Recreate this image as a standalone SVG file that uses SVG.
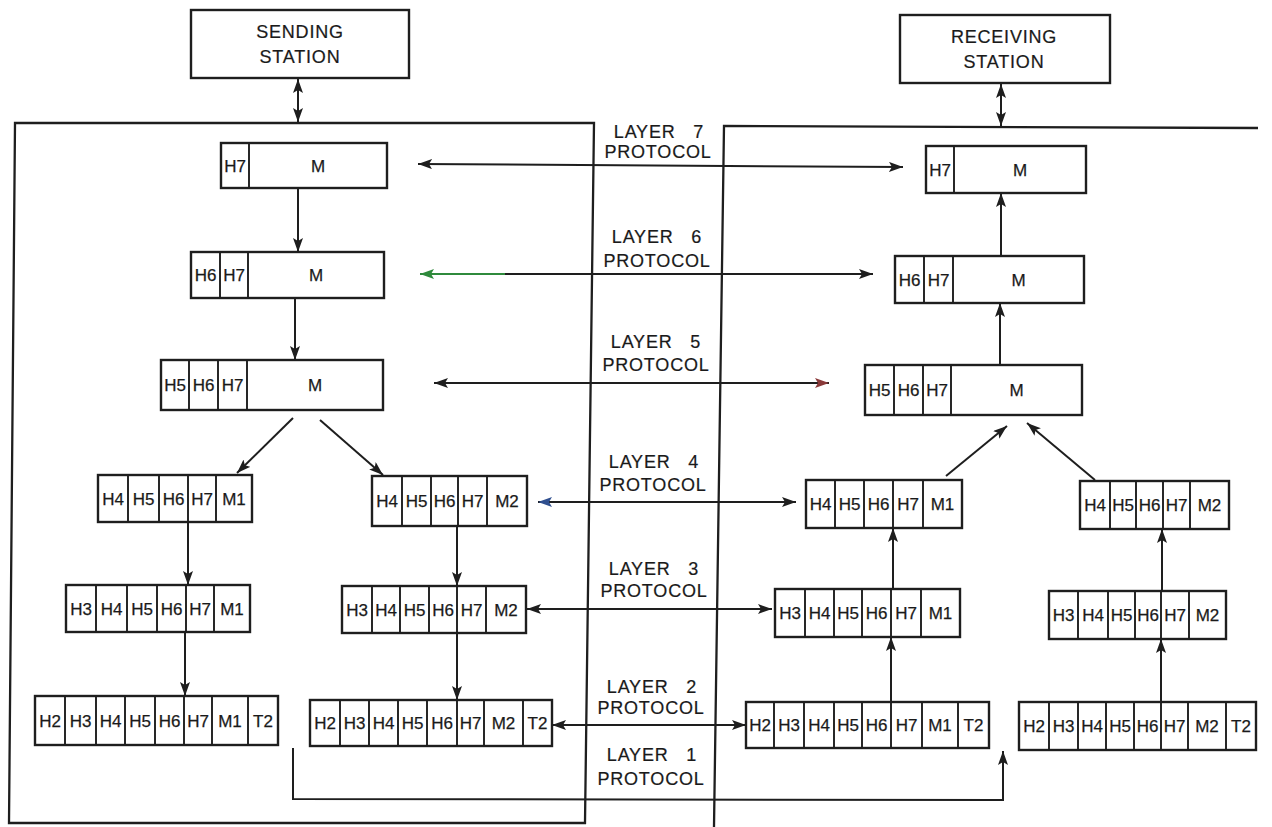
<svg xmlns="http://www.w3.org/2000/svg" width="1272" height="827" viewBox="0 0 1272 827">
<defs>
<style>
.frame{fill:none;stroke:#1e1e1e;stroke-width:2.3}
.box{fill:#fff;stroke:#1e1e1e;stroke-width:2.4}
.div{stroke:#1e1e1e;stroke-width:1.9}
.c{font-family:"Liberation Sans",Arial,sans-serif;font-size:17px;fill:#1a1a1a;stroke:#1a1a1a;stroke-width:0.25;text-anchor:middle}
.lbl{font-family:"Liberation Sans",Arial,sans-serif;font-size:18px;letter-spacing:0.8px;fill:#1a1a1a;stroke:#1a1a1a;stroke-width:0.2;text-anchor:middle}
.lay{word-spacing:12px}
.arr{fill:none;stroke:#1e1e1e;stroke-width:2;marker-end:url(#ah)}
.bi{fill:none;stroke:#1e1e1e;stroke-width:2;marker-end:url(#ah);marker-start:url(#ah)}
</style>
<marker id="ah" markerUnits="userSpaceOnUse" markerWidth="15" markerHeight="11" refX="14" refY="5" orient="auto-start-reverse"><path d="M0,0 L14,5 L0,10 L3,5 z" fill="#1e1e1e"/></marker>
<marker id="ahg" markerUnits="userSpaceOnUse" markerWidth="15" markerHeight="11" refX="14" refY="5" orient="auto-start-reverse"><path d="M0,0 L14,5 L0,10 L3,5 z" fill="#2f8a3c"/></marker>
<marker id="ahb" markerUnits="userSpaceOnUse" markerWidth="15" markerHeight="11" refX="14" refY="5" orient="auto-start-reverse"><path d="M0,0 L14,5 L0,10 L3,5 z" fill="#2f4f8f"/></marker>
<marker id="ahr" markerUnits="userSpaceOnUse" markerWidth="15" markerHeight="11" refX="14" refY="5" orient="auto-start-reverse"><path d="M0,0 L14,5 L0,10 L3,5 z" fill="#8a3a3a"/></marker>
</defs>
<rect width="1272" height="827" fill="#fff"/>

<g id="frames">
<path class="frame" d="M15,123 L594,123 L585,823 L9,823 Z"/>
<path class="frame" d="M1258,128 L724,126 L714,827"/>
</g>

<g id="sending-station">
<rect class="box" x="191" y="10" width="218" height="68"/>
<text class="lbl" x="300" y="38">SENDING</text>
<text class="lbl" x="300" y="63">STATION</text>
</g>
<g id="receiving-station">
<rect class="box" x="900" y="15" width="210" height="68"/>
<text class="lbl" x="1004" y="43">RECEIVING</text>
<text class="lbl" x="1004" y="68">STATION</text>
</g>

<g id="layer-labels">
<text class="lbl lay" x="659" y="138">LAYER 7</text>
<text class="lbl" x="658" y="158">PROTOCOL</text>
<text class="lbl lay" x="657" y="243">LAYER 6</text>
<text class="lbl" x="657" y="267">PROTOCOL</text>
<text class="lbl lay" x="656" y="348">LAYER 5</text>
<text class="lbl" x="656" y="371">PROTOCOL</text>
<text class="lbl lay" x="654" y="468">LAYER 4</text>
<text class="lbl" x="653" y="491">PROTOCOL</text>
<text class="lbl lay" x="654" y="575">LAYER 3</text>
<text class="lbl" x="654" y="597">PROTOCOL</text>
<text class="lbl lay" x="652" y="693">LAYER 2</text>
<text class="lbl" x="651" y="714">PROTOCOL</text>
<text class="lbl lay" x="652" y="761">LAYER 1</text>
<text class="lbl" x="651" y="785">PROTOCOL</text>
</g>

<g id="s7">
<rect class="box" x="221" y="143" width="166" height="45"/>
<line class="div" x1="249" y1="143" x2="249" y2="188"/>
<text class="c" y="171.5"><tspan x="235">H7</tspan><tspan x="318">M</tspan></text>
</g>
<g id="s6">
<rect class="box" x="191" y="252" width="193" height="46"/>
<path class="div" d="M220,252V298M248,252V298"/>
<text class="c" y="281"><tspan x="205.5">H6</tspan><tspan x="234">H7</tspan><tspan x="316">M</tspan></text>
</g>
<g id="s5">
<rect class="box" x="161" y="360" width="222" height="50"/>
<path class="div" d="M189,360V410M218,360V410M247,360V410"/>
<text class="c" y="391"><tspan x="175">H5</tspan><tspan x="203.5">H6</tspan><tspan x="232.5">H7</tspan><tspan x="315">M</tspan></text>
</g>
<g id="s4a">
<rect class="box" x="98" y="475" width="154" height="47"/>
<path class="div" d="M128,475V522M159,475V522M188,475V522M216,475V522"/>
<text class="c" y="504.5"><tspan x="113">H4</tspan><tspan x="143.5">H5</tspan><tspan x="173.5">H6</tspan><tspan x="202">H7</tspan><tspan x="234">M1</tspan></text>
</g>
<g id="s3a">
<rect class="box" x="66" y="585" width="184" height="47"/>
<path class="div" d="M96,585V632M127,585V632M157,585V632M186,585V632M214,585V632"/>
<text class="c" y="614.5"><tspan x="81">H3</tspan><tspan x="111.5">H4</tspan><tspan x="142">H5</tspan><tspan x="171.5">H6</tspan><tspan x="200">H7</tspan><tspan x="232">M1</tspan></text>
</g>
<g id="s2a">
<rect class="box" x="35" y="696" width="243" height="49"/>
<path class="div" d="M65,696V745M96,696V745M125,696V745M155,696V745M184,696V745M212,696V745M248,696V745"/>
<text class="c" y="726.5"><tspan x="50">H2</tspan><tspan x="80.5">H3</tspan><tspan x="110.5">H4</tspan><tspan x="140">H5</tspan><tspan x="169.5">H6</tspan><tspan x="198">H7</tspan><tspan x="230">M1</tspan><tspan x="263">T2</tspan></text>
</g>
<g id="s4b">
<rect class="box" x="372" y="476" width="155" height="50"/>
<path class="div" d="M402,476V526M431,476V526M458,476V526M487,476V526"/>
<text class="c" y="507"><tspan x="387">H4</tspan><tspan x="416.5">H5</tspan><tspan x="444.5">H6</tspan><tspan x="472.5">H7</tspan><tspan x="507">M2</tspan></text>
</g>
<g id="s3b">
<rect class="box" x="342" y="586" width="184" height="47"/>
<path class="div" d="M372,586V633M400,586V633M429,586V633M457,586V633M486,586V633"/>
<text class="c" y="615.5"><tspan x="357">H3</tspan><tspan x="386">H4</tspan><tspan x="414.5">H5</tspan><tspan x="443">H6</tspan><tspan x="471.5">H7</tspan><tspan x="506">M2</tspan></text>
</g>
<g id="s2b">
<rect class="box" x="310" y="700" width="242" height="46"/>
<path class="div" d="M340,700V746M369,700V746M398,700V746M427,700V746M457,700V746M484,700V746M523,700V746"/>
<text class="c" y="729"><tspan x="325">H2</tspan><tspan x="354.5">H3</tspan><tspan x="383.5">H4</tspan><tspan x="412.5">H5</tspan><tspan x="442">H6</tspan><tspan x="470.5">H7</tspan><tspan x="503.5">M2</tspan><tspan x="537.5">T2</tspan></text>
</g>

<g id="r7">
<rect class="box" x="926" y="146" width="160" height="47"/>
<line class="div" x1="954" y1="146" x2="954" y2="193"/>
<text class="c" y="175.5"><tspan x="940">H7</tspan><tspan x="1020">M</tspan></text>
</g>
<g id="r6">
<rect class="box" x="895" y="256" width="189" height="47"/>
<path class="div" d="M924,256V303M953,256V303"/>
<text class="c" y="285.5"><tspan x="909.5">H6</tspan><tspan x="938.5">H7</tspan><tspan x="1018.5">M</tspan></text>
</g>
<g id="r5">
<rect class="box" x="865" y="365" width="217" height="50"/>
<path class="div" d="M894,365V415M923,365V415M951,365V415"/>
<text class="c" y="396"><tspan x="879.5">H5</tspan><tspan x="908.5">H6</tspan><tspan x="937">H7</tspan><tspan x="1016.5">M</tspan></text>
</g>
<g id="r4a">
<rect class="box" x="806" y="480" width="156" height="48"/>
<path class="div" d="M835,480V528M864,480V528M893,480V528M923,480V528"/>
<text class="c" y="510"><tspan x="820.5">H4</tspan><tspan x="849.5">H5</tspan><tspan x="878.5">H6</tspan><tspan x="908">H7</tspan><tspan x="942.5">M1</tspan></text>
</g>
<g id="r4b">
<rect class="box" x="1080" y="481" width="149" height="48"/>
<path class="div" d="M1110,481V529M1136,481V529M1163,481V529M1190,481V529"/>
<text class="c" y="511"><tspan x="1095">H4</tspan><tspan x="1123">H5</tspan><tspan x="1149.5">H6</tspan><tspan x="1176.5">H7</tspan><tspan x="1209.5">M2</tspan></text>
</g>
<g id="r3a">
<rect class="box" x="775" y="589" width="185" height="48"/>
<path class="div" d="M805,589V637M834,589V637M862,589V637M891,589V637M921,589V637"/>
<text class="c" y="619"><tspan x="790">H3</tspan><tspan x="819.5">H4</tspan><tspan x="848">H5</tspan><tspan x="876.5">H6</tspan><tspan x="906">H7</tspan><tspan x="940.5">M1</tspan></text>
</g>
<g id="r3b">
<rect class="box" x="1049" y="591" width="177" height="48"/>
<path class="div" d="M1078,591V639M1108,591V639M1135,591V639M1161,591V639M1189,591V639"/>
<text class="c" y="621"><tspan x="1063.5">H3</tspan><tspan x="1093">H4</tspan><tspan x="1121.5">H5</tspan><tspan x="1148">H6</tspan><tspan x="1175">H7</tspan><tspan x="1207.5">M2</tspan></text>
</g>
<g id="r2a">
<rect class="box" x="746" y="702" width="243" height="46"/>
<path class="div" d="M774,702V748M804,702V748M834,702V748M862,702V748M891,702V748M922,702V748M958,702V748"/>
<text class="c" y="731"><tspan x="760">H2</tspan><tspan x="789">H3</tspan><tspan x="819">H4</tspan><tspan x="848">H5</tspan><tspan x="876.5">H6</tspan><tspan x="906.5">H7</tspan><tspan x="940">M1</tspan><tspan x="973.5">T2</tspan></text>
</g>
<g id="r2b">
<rect class="box" x="1019" y="702" width="237" height="48"/>
<path class="div" d="M1049,702V750M1078,702V750M1106,702V750M1134,702V750M1161,702V750M1188,702V750M1226,702V750"/>
<text class="c" y="732"><tspan x="1034">H2</tspan><tspan x="1063.5">H3</tspan><tspan x="1092">H4</tspan><tspan x="1120">H5</tspan><tspan x="1147.5">H6</tspan><tspan x="1174.5">H7</tspan><tspan x="1207">M2</tspan><tspan x="1241">T2</tspan></text>
</g>

<g id="connectors">
<path class="bi" d="M298,79 L298,122"/>
<path class="bi" d="M1001,84 L1001,126"/>
<path class="arr" d="M298,188 L298,252"/>
<path class="arr" d="M295,298 L295,360"/>
<path class="arr" d="M293,418 L237,473"/>
<path class="arr" d="M320,420 L383,475"/>
<path class="arr" d="M188,522 L188,585"/>
<path class="arr" d="M185,632 L185,696"/>
<path class="arr" d="M457,526 L457,586"/>
<path class="arr" d="M457,633 L457,700"/>
<path class="arr" d="M891,702 L891,637"/>
<path class="arr" d="M893,589 L893,528"/>
<path class="arr" d="M1161,702 L1161,639"/>
<path class="arr" d="M1162,591 L1162,529"/>
<path class="arr" d="M946,476 L1007,426"/>
<path class="arr" d="M1095,480 L1027,423"/>
<path class="arr" d="M1000,365 L1000,303"/>
<path class="arr" d="M1001,256 L1001,193"/>
<path class="bi" d="M418,164 L903,167"/>
<path d="M505,274 L420,274" fill="none" stroke="#2f8a3c" stroke-width="2" marker-end="url(#ahg)"/>
<path class="arr" d="M505,274 L873,274"/>
<path class="bi" d="M434,383 L829,383" style="marker-end:url(#ahr)"/>
<path class="bi" d="M538,502 L796,502" style="marker-start:url(#ahb)"/>
<path class="bi" d="M527,609 L772,609"/>
<path class="bi" d="M552,725 L746,725"/>
<path class="arr" d="M293,748 L293,799 L1003,800 L1003,751"/>
</g>
</svg>
